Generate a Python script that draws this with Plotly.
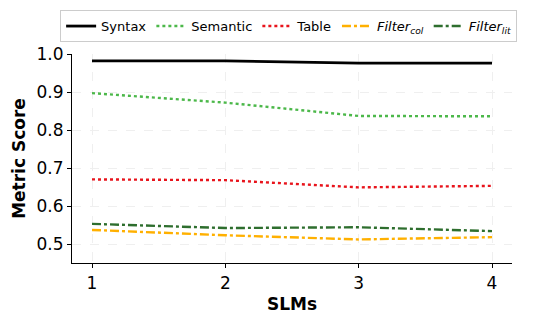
import plotly.graph_objects as go

slms = [1, 2, 3, 4]
syntax = [0.982, 0.982, 0.976, 0.976]
semantic = [0.897, 0.872, 0.837, 0.836]
table = [0.670, 0.668, 0.649, 0.653]
filter_col = [0.537, 0.523, 0.512, 0.518]
filter_lit = [0.553, 0.542, 0.544, 0.534]

series = [
    ("Syntax", syntax, "black", "solid", 2.8),
    ("Semantic", semantic, "#4cb84a", "dot", 2.4),
    ("Table", table, "#e8141c", "dot", 2.4),
    ("<i>Filter</i><sub><i>col</i></sub>", filter_col, "#ffb000", "dashdot", 2.4),
    ("<i>Filter</i><sub><i>lit</i></sub>", filter_lit, "#2e6e2e", "dashdot", 2.4),
]

fig = go.Figure()
for name, vals, color, dash, w in series:
    fig.add_trace(go.Scatter(x=slms, y=vals, name=name, mode="lines",
                             line=dict(color=color, dash=dash, width=w)))

W, H = 525, 316
fig.update_layout(
    width=W, height=H,
    margin=dict(l=64, r=21, t=46, b=61, autoexpand=False),
    paper_bgcolor="white", plot_bgcolor="white",
    font=dict(family="DejaVu Sans", size=17, color="black"),
    legend=dict(orientation="h", x=-0.027, xanchor="left",
                y=1.21, yanchor="top",
                bordercolor="#cccccc", borderwidth=1,
                font=dict(size=13), itemwidth=30, tracegroupgap=0),
    showlegend=True,
)
fig.update_xaxes(range=[0.85, 4.15], tickvals=slms, ticktext=[str(s) for s in slms],
                 showline=True, linecolor="black", linewidth=1.2,
                 ticks="outside", ticklen=4, tickcolor="black",
                 showgrid=True, gridcolor="#efefef", griddash="dash", gridwidth=0.6,
                 zeroline=False,
                 title=dict(text="<b>SLMs</b>", font=dict(size=17), standoff=6))
fig.update_yaxes(range=[0.45, 1.0], tickvals=[0.5, 0.6, 0.7, 0.8, 0.9, 1.0],
                 tickformat=".1f",
                 showline=True, linecolor="black", linewidth=1.2,
                 ticks="outside", ticklen=4, tickcolor="black",
                 showgrid=True, gridcolor="#efefef", griddash="dash", gridwidth=0.6,
                 zeroline=False,
                 title=dict(text="<b>Metric Score</b>", font=dict(size=17), standoff=6))

fig.write_html("out.html")
